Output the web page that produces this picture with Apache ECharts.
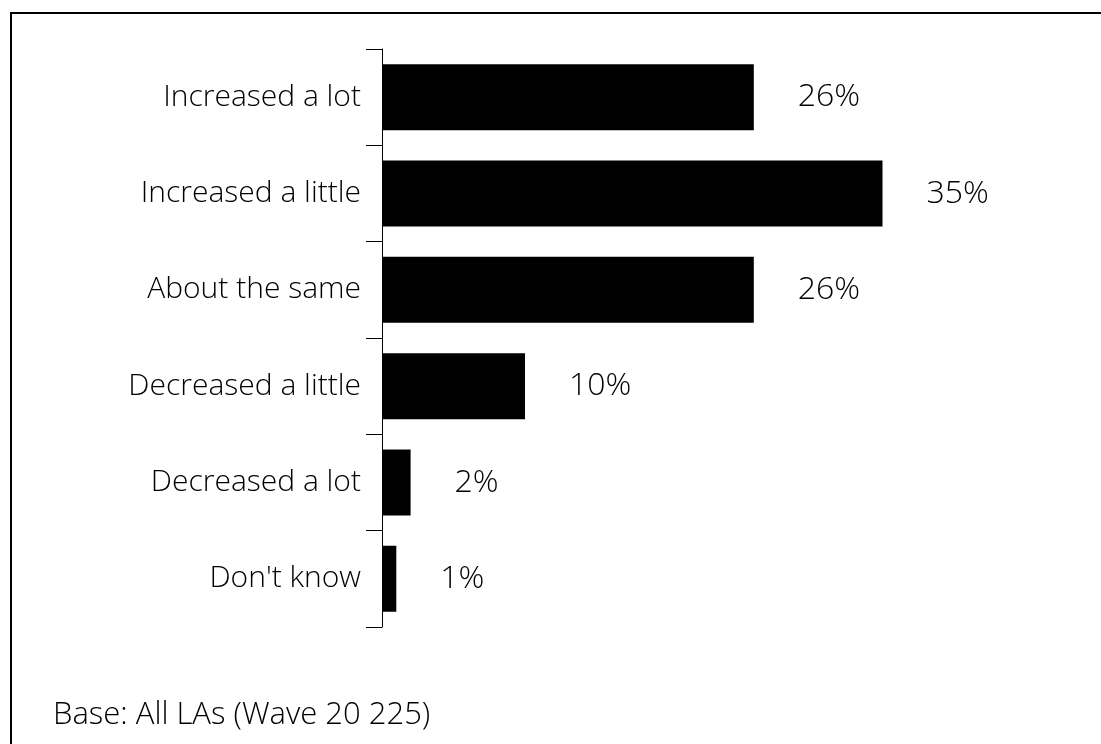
<!DOCTYPE html>
<html>
<head>
<meta charset="utf-8">
<script src="https://cdn.jsdelivr.net/npm/echarts@6/dist/echarts.min.js"></script>
<style>
html,body{margin:0;padding:0;background:#fff;}
#chart{width:1101px;height:744px;}
</style>
</head>
<body>
<div id="chart"></div>
<script>
const categories = ["Increased a lot", "Increased a little", "About the same", "Decreased a little", "Decreased a lot", "Don't know"];
const values = [26, 35, 26, 10, 2, 1];
const baseNote = "Base: All LAs (Wave 20 225)";

const FONT = "'Open Sans', 'Noto Sans', sans-serif";
const chart = echarts.init(document.getElementById('chart'), null, {renderer: 'canvas'});
chart.setOption({
  backgroundColor: '#fff',
  animation: false,
  grid: {left: 382, top: 49, width: 715, height: 578, containLabel: false},
  xAxis: {
    type: 'value', min: 0, max: 50,
    show: false
  },
  yAxis: {
    type: 'category',
    data: categories,
    inverse: true,
    axisLine: {show: true, lineStyle: {color: '#000', width: 1}},
    axisTick: {show: true, length: 16, lineStyle: {color: '#000', width: 1}},
    axisLabel: {color: '#000', fontSize: 30, fontWeight: 300, fontFamily: FONT, margin: 21},
    splitLine: {show: false}
  },
  series: [{
    type: 'bar',
    data: values,
    barCategoryGap: '31.5%',
    itemStyle: {color: '#000'},
    label: {
      show: true, position: 'right', distance: 44,
      formatter: '{c}%', color: '#000', fontSize: 32, fontWeight: 300, fontFamily: FONT
    }
  }],
  graphic: [
    {type: 'rect', shape: {x: 11, y: 13, width: 1200, height: 900},
     style: {fill: 'none', stroke: '#000', lineWidth: 2}, silent: true},
    {type: 'text', left: 53, top: 700,
     style: {text: baseNote, fill: '#000', fontSize: 31, fontWeight: 300, fontFamily: FONT}}
  ]
});
</script>
</body>
</html>
